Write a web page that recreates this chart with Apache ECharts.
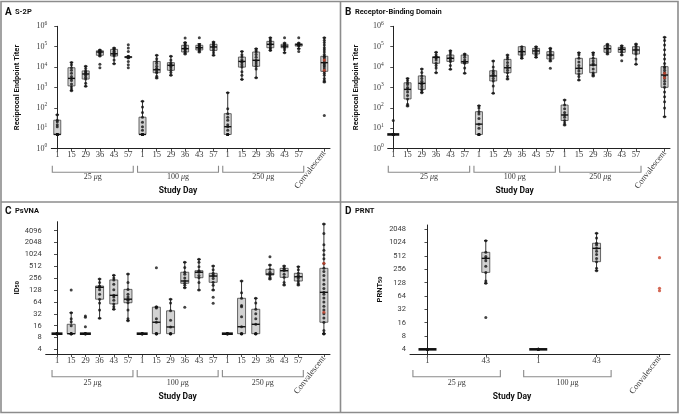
<!DOCTYPE html>
<html><head><meta charset="utf-8">
<script src="https://cdn.jsdelivr.net/npm/echarts@6/dist/echarts.min.js"></script>
<style>html,body{margin:0;padding:0;background:#fff}#c{width:680px;height:416px}</style>
</head><body><div id="c"></div><script>
// ================= DATA =================
const dayLabels = ['1','15','29','36','43','57','1','15','29','36','43','57','1','15','29','36','43','57'];
const dayPos = [0,1,2,3,4,5,6,7,8,9,10,11,12,13,14,15,16,17];
const groupLabels = ['25 μg','100 μg','250 μg'];
const convLabel = 'Convalescent';
const convPosA = 18.8, convPosB = 19.0, convPosC = 18.8;
const yTicks10 = [1,10,100,1000,10000,100000,1000000];
const yTicksC = [4,8,16,32,64,128,256,512,1024,2048,4096];
const yTicksD = [4,8,16,32,64,128,256,512,1024,2048];

// [min, Q1, median, Q3, max] per box (18 study-day boxes + convalescent)
const s2pStats = [
 [5,5,5,25,46],[700,1200,2800,9300,17000],[1150,2600,4600,6500,11000],[35000,38000,55000,63000,69000],[14700,35000,45000,74000,87000],[28000,29000,31000,33000,34000],
 [5,5,5,35,210],[2900,5300,7400,19000,38000],[4000,7000,12300,16500,34000],[44000,55000,80000,117000,160000],[55000,69000,89000,117000,140000],[38000,66000,97000,132000,170000],
 [5,5,12,52,560],[2500,10000,19000,31000,59000],[3000,11000,21600,55000,80000],[66000,89000,131000,183000,275000],[51000,89000,107000,131000,150000],[80000,107000,125000,140000,150000],
 [1860,6200,16500,34000,275000]
];
const s2pPoints = [
 [5,5,5,5,5,5,5,12,15,21,25,46],
 [700,850,1100,1500,2200,2800,3500,5000,7000,9300,13000,17000],
 [1150,1600,2600,3200,4000,4600,5200,6000,6500,8500,11000],
 [9300,13700,35000,40000,46000,52000,55000,58000,62000,66000,69000],
 [14700,22000,35000,40000,45000,52000,60000,70000,80000,87000],
 [9300,13000,19000,28000,30000,31000,33000,34000,59000,87000,125000],
 [5,5,5,5,5,5,8,12,20,35,60,110,210],
 [2900,3600,5300,6000,7400,8500,11000,15000,19000,26000,38000],
 [4000,5500,7000,9000,11000,12300,14000,16500,22000,34000],
 [44000,52000,60000,70000,80000,90000,100000,117000,140000,160000,270000],
 [55000,65000,75000,85000,89000,95000,105000,117000,130000,275000],
 [38000,50000,66000,80000,97000,105000,120000,132000,150000,170000],
 [5,5,5,5,5,8,12,15,25,35,52,90,560],
 [2500,4000,6000,10000,13000,17000,19000,23000,31000,40000,59000],
 [3000,8000,11000,14000,18000,21600,30000,42000,55000,65000,80000],
 [66000,80000,89000,110000,131000,150000,183000,220000,275000],
 [51000,70000,89000,100000,107000,115000,131000,150000,275000],
 [59000,80000,107000,118000,125000,132000,140000,150000,275000],
 [43,1860,2200,2800,4000,5000,6200,8000,10000,12000,14000,16500,20000,25000,30000,34000,42000,55000,70000,90000,120000,160000,210000,275000]
];
const s2pRed = [7000,22000];

const rbdStats = [
 [5,5,5,5,5],[124,275,810,1700,2800],[560,810,1600,3700,8100],[5300,15400,30000,32000,53000],[7800,19000,27000,39000,63000],[5000,15400,18400,39000,44000],
 [5,5,16,65,128],[520,2100,3700,6600,20000],[2600,5300,9300,24000,39000],[27000,39000,57000,100000,100000],[30000,44000,62000,83000,100000],[20000,25000,39000,57000,83000],
 [14.5,24,45,138,245],[2300,4600,8700,27000,51000],[3700,5300,12600,27000,51000],[44000,53000,80000,112000,132000],[39000,53000,74000,93000,112000],[13700,44000,69000,100000,135000],
 [37,1020,4100,10500,290000]
];
const rbdPoints = [
 [5,5,5,5,5,5,5,5,5,5,24],
 [124,150,275,400,600,810,1000,1400,1700,2200,2800],
 [560,700,810,1100,1400,1600,2000,2800,3700,5500,8100],
 [5300,9000,12000,15400,22000,28000,30000,31000,32000,40000,53000],
 [7800,12000,19000,22000,27000,30000,39000,50000,63000],
 [5000,9000,15400,17000,18400,22000,30000,39000,44000],
 [5,5,5,5,5,10,16,30,50,65,100,128],
 [520,1200,2100,2800,3700,4500,5500,6600,10000,20000],
 [2600,3500,5300,7000,9300,12000,17000,24000,30000,39000],
 [27000,33000,39000,47000,57000,65000,80000,100000],
 [30000,38000,44000,52000,62000,70000,83000,100000],
 [8700,20000,25000,32000,39000,45000,57000,70000,83000],
 [14.5,18,24,35,45,60,90,138,245],
 [2300,3500,4600,6500,8700,12000,18000,27000,40000,51000],
 [3700,4500,5300,8000,12600,15000,20000,27000,40000,51000],
 [44000,53000,65000,80000,95000,112000,132000],
 [20500,39000,53000,62000,74000,85000,93000,112000],
 [13700,25000,44000,55000,69000,80000,100000,120000,135000],
 [37,100,200,350,600,1020,1500,2000,2800,3500,4100,5500,7000,9000,10500,15000,25000,40000,70000,120000,200000,290000]
];
const rbdRed = [3000,5000];

const psvnaStats = [
 [10,10,10,10,10],[10,10,10,17.3,34],[10,10,10,10,10],[24.6,75,150,162,244],[41.6,57,94,231,302],[21.4,61,75,133,326],
 [10,10,10,10,10],[10,10,19.5,47,48],[10,10,14.8,38,75],[147,190,217,362,648],[128,263,362,396,770],[128,201,290,340,522],
 [10,10,10,10,10],[10,10,15,79,217],[10,10,17.3,41.6,79],[244,309,326,431,553],[172,269,396,455,522],[172,217,278,340,501],
 [10,19.5,112,455,6040]
];
const psvnaPoints = [
 [10,10,10,10,10,10],
 [10,10,10,10,10,16,20,24,34,128],
 [10,10,10,10,10,15,26,28],
 [24.6,40,60,75,100,130,150,155,162,200,244],
 [41.6,48,57,70,85,94,130,180,231,260,302],
 [21.4,24,40,61,70,75,85,100,133,200,326],
 [10,10,10,10,10,10],
 [10,10,10,10,10,19.5,24,45,47,48,471],
 [10,10,10,10,14.8,22,38,60,75],
 [47,147,170,190,217,260,320,362,480,648],
 [128,200,263,300,362,380,396,500,650,770],
 [59,84,128,170,201,250,290,310,340,420,522],
 [10,10,10,10,10,10],
 [10,10,10,10,15,27,48,52,79,110,217],
 [10,10,10,10,17.3,24,32,41.6,60,79],
 [244,270,309,326,360,431,553,898],
 [172,200,269,320,396,430,455,522],
 [172,190,217,250,278,300,340,420,501],
 [10,10,10,12,19.5,25,32,40,50,64,80,100,112,140,180,230,300,380,455,600,800,1000,1300,1800,3500,6040]
];
const psvnaRed = [610,35];

const prntDayLabels = ['1','43','1','43'];
const prntPos = [0,1,1.9,2.9];
const prntGroupLabels = ['25 μg','100 μg'];
const convPosD = 3.98;
const prntStats = [[4,4,4,4,4],[124,218,452,618,1134],[4,4,4,4,4],[238,380,760,990,1660]];
const prntPoints = [
 [4,4,4,4,4,4],
 [21,124,140,218,300,400,452,500,618,1134],
 [4,4,4,4,4,4],
 [238,270,380,450,550,650,760,900,990,1300,1660]
];
const prntRed = [468,95,84];

// ================= STYLE / LAYOUT =================
const SANS = 'Roboto, "Open Sans", sans-serif';
const SERIF = '"Liberation Serif", "DejaVu Serif", serif';
const INK = '#222';
const FRAME = '#8c8c8c';
const LABEL = '#3a3a3a';

const panels = [
 {title:'A', sub:'S-2P', tx:5, ty:12, g:[51.3,26.3,278.7,122.4], x:[-0.42,19.2], logBase:10, y:[1,1.0001e6], yTicks:yTicks10, pow:true,
  yName:'Reciprocal Endpoint Titer', yNameGap:30, labels:dayLabels, pos:dayPos.concat([convPosA]), stats:s2pStats, pts:s2pPoints, red:s2pRed,
  groups:groupLabels, per:6, pad:0.35, bw:7, flatW:12, br:[17,23.6], gl:28.3, sd:42},
 {title:'B', sub:'Receptor-Binding Domain', tx:345, ty:12, g:[387.7,26.3,282.3,122.4], x:[-0.39,19.38], logBase:10, y:[1,1.0001e6], yTicks:yTicks10, pow:true,
  yName:'Reciprocal Endpoint Titer', yNameGap:28, labels:dayLabels, pos:dayPos.concat([convPosB]), stats:rbdStats, pts:rbdPoints, red:rbdRed,
  groups:groupLabels, per:6, pad:0.35, bw:7, flatW:12, br:[17,23.6], gl:28.3, sd:42},
 {title:'C', sub:'PsVNA', tx:5, ty:211, g:[45.7,221.7,284.3,132.3], x:[-0.796,19.23], logBase:2, y:[3.05,6935], yTicks:yTicksC, pow:false,
  yName:'ID{sub|50}', yNameGap:22, labels:dayLabels, pos:dayPos.concat([convPosC]), stats:psvnaStats, pts:psvnaPoints, red:psvnaRed,
  groups:groupLabels, per:6, pad:0.35, bw:8, flatW:11, br:[16,22.7], gl:29, sd:43.3},
 {title:'D', sub:'PRNT', tx:345, ty:211, g:[410,225,260,129], x:[-0.3,4.16], logBase:2, y:[3.14,2556], yTicks:yTicksD, pow:false,
  yName:'PRNT{sub|50}', yNameGap:26, labels:prntDayLabels, pos:prntPos.concat([convPosD]), stats:prntStats, pts:prntPoints, red:prntRed,
  groups:prntGroupLabels, per:2, pad:0.25, bw:8, flatW:18, br:[16,22.7], gl:29, sd:43.3}
];

function boxRenderer(bw, flatW) {
  return function (params, api) {
    const x = api.value(0);
    const ys = [1,2,3,4,5].map(i => api.coord([x, api.value(i)])[1]);
    const cx = api.coord([x, api.value(3)])[0];
    const [yMin, yQ1, yMed, yQ3, yMax] = ys;
    const hw = bw / 2, cap = 1.8, stroke = '#333';
    const ch = [];
    if (Math.abs(yQ1 - yQ3) < 0.6 && Math.abs(yMin - yMax) < 0.6) {
      ch.push({type:'line', shape:{x1:cx-flatW/2, y1:yMed, x2:cx+flatW/2, y2:yMed}, style:{stroke:'#111', lineWidth:2.6}});
    } else {
      ch.push({type:'line', shape:{x1:cx, y1:yMax, x2:cx, y2:yQ3}, style:{stroke, lineWidth:1}});
      ch.push({type:'line', shape:{x1:cx, y1:yQ1, x2:cx, y2:yMin}, style:{stroke, lineWidth:1}});
      ch.push({type:'line', shape:{x1:cx-cap, y1:yMax, x2:cx+cap, y2:yMax}, style:{stroke, lineWidth:1.2}});
      ch.push({type:'line', shape:{x1:cx-cap, y1:yMin, x2:cx+cap, y2:yMin}, style:{stroke, lineWidth:1.2}});
      ch.push({type:'rect', shape:{x:cx-hw, y:yQ3, width:bw, height:Math.max(0.8, yQ1-yQ3)}, style:{fill:'#d2d2d2', stroke:'#444', lineWidth:0.8}});
      ch.push({type:'line', shape:{x1:cx-hw, y1:yMed, x2:cx+hw, y2:yMed}, style:{stroke:'#111', lineWidth:1.4}});
    }
    return {type:'group', children:ch};
  };
}
function bracketRenderer(p) {
  return function (params, api) {
    const cs = params.coordSys;
    const bottom = cs.y + cs.height;
    const yRef = api.value(2);
    const x1 = api.coord([api.value(0), yRef])[0];
    const x2 = api.coord([api.value(1), yRef])[0];
    const yt = bottom + p.br[0], yb = bottom + p.br[1];
    const txt = p.groups[params.dataIndex].replace('μ', '{i|μ}');
    return {type:'group', children:[
      {type:'polyline', shape:{points:[[x1,yt],[x1,yb],[x2,yb],[x2,yt]]}, style:{stroke:'#8a8a8a', lineWidth:1.1, fill:null}},
      {type:'text', x:(x1+x2)/2, y:bottom + p.gl, style:{text:txt, fill:LABEL, font:'8px ' + SERIF,
        rich:{i:{fontStyle:'italic', fontSize:8, fontFamily:SERIF, fill:LABEL, color:LABEL}},
        align:'center', verticalAlign:'middle', textAlign:'center', textVerticalAlign:'middle'}}
    ]};
  };
}
function studyDayRenderer(p) {
  return function (params, api) {
    const cs = params.coordSys;
    const x = api.coord([api.value(0), api.value(1)])[0];
    return {type:'text', x:x, y:cs.y + cs.height + p.sd, style:{text:'Study Day', fill:'#111', font:'bold 8.5px ' + SANS, align:'center', verticalAlign:'middle', textAlign:'center', textVerticalAlign:'middle'}};
  };
}

const grid = [], xAxis = [], yAxis = [], series = [], graphic = [];
panels.forEach((p, k) => {
  grid.push({left:p.g[0], top:p.g[1], width:p.g[2], height:p.g[3], outerBoundsMode:'none', containLabel:false});
  const nDays = p.labels.length;
  const convPos = p.pos[p.pos.length - 1];
  xAxis.push({
    type:'value', gridIndex:k, position:'bottom', min:p.x[0], max:p.x[1],
    splitLine:{show:false},
    axisLine:{show:true, onZero:false, lineStyle:{color:INK, width:1}},
    axisTick:{show:true, length:3, lineStyle:{color:INK, width:0.8}, customValues:p.pos},
    axisLabel:{show:true, customValues:p.pos.slice(0, nDays), margin:2, color:LABEL, fontFamily:SERIF, fontSize:8.5,
      formatter:(v) => { const i = p.pos.findIndex(q => Math.abs(q - v) < 1e-6); return (i >= 0 && i < nDays) ? p.labels[i] : ''; }}
  });
  xAxis.push({
    type:'value', gridIndex:k, position:'bottom', min:p.x[0], max:p.x[1],
    splitLine:{show:false}, axisLine:{show:false}, axisTick:{show:false},
    axisLabel:{show:true, customValues:[convPos], rotate:52, margin:3, color:LABEL, fontFamily:SERIF, fontSize:8.5, formatter:() => convLabel}
  });
  yAxis.push({
    type:'log', logBase:p.logBase, gridIndex:k, min:p.y[0], max:p.y[1],
    splitLine:{show:false}, minorTick:{show:false}, minorSplitLine:{show:false},
    axisLine:{show:true, lineStyle:{color:INK, width:1}},
    axisTick:{show:true, length:3, lineStyle:{color:INK, width:0.8}, customValues:p.yTicks},
    axisLabel:{show:true, customValues:p.yTicks, margin:4, color:LABEL,
      fontFamily: p.pow ? SERIF : SANS, fontSize: p.pow ? 8 : 7.5,
      formatter: p.pow ? (v => '{b|10}{s|' + Math.round(Math.log10(v)) + '}') : (v => String(Math.round(v))),
      rich:{b:{fontSize:8, lineHeight:12, fontFamily:SERIF, color:LABEL, verticalAlign:'middle'}, s:{fontSize:5.5, lineHeight:5, fontFamily:SERIF, color:LABEL, verticalAlign:'top'}}},
    name:p.yName, nameLocation:'middle', nameGap:p.yNameGap,
    nameTextStyle:{color:'#111', fontFamily:SANS, fontWeight:'bold', fontSize:7.5,
      rich:{sub:{fontSize:5.5, fontFamily:SANS, fontWeight:'bold', color:'#111', verticalAlign:'bottom', lineHeight:8}}}
  });
  const xi = 2 * k;
  series.push({
    type:'custom', xAxisIndex:xi, yAxisIndex:k, clip:false, silent:true, z:2,
    encode:{x:0, y:[1,2,3,4,5]},
    data:p.stats.map((s, i) => [p.pos[i]].concat(s)),
    renderItem:boxRenderer(p.bw, p.flatW)
  });
  const pts = [];
  p.pts.forEach((arr, i) => arr.forEach(v => pts.push([p.pos[i], v])));
  series.push({type:'scatter', xAxisIndex:xi, yAxisIndex:k, symbol:'circle', symbolSize:3, z:3, silent:true,
    itemStyle:{color:'#141414'}, data:pts});
  series.push({type:'scatter', xAxisIndex:xi, yAxisIndex:k, symbol:'circle', symbolSize:3.2, z:4, silent:true,
    itemStyle:{color:'#c9442c'}, data:p.red.map(v => [convPos, v])});
  const spans = p.groups.map((g, gi) => [p.pos[gi * p.per] - p.pad, p.pos[gi * p.per + p.per - 1] + p.pad, p.y[0]]);
  series.push({type:'custom', xAxisIndex:xi, yAxisIndex:k, clip:false, silent:true, encode:{x:[0,1], y:2},
    data:spans, renderItem:bracketRenderer(p)});
  const center = (spans[0][0] + spans[spans.length - 1][1]) / 2;
  series.push({type:'custom', xAxisIndex:xi, yAxisIndex:k, clip:false, silent:true, encode:{x:0, y:1},
    data:[[center, p.y[0]]], renderItem:studyDayRenderer(p)});
  graphic.push({type:'text', x:p.tx, y:p.ty, silent:true, style:{text:p.title, font:'bold 10px ' + SANS, fill:'#111', verticalAlign:'middle', textVerticalAlign:'middle'}});
  graphic.push({type:'text', x:p.tx + 10, y:p.ty, silent:true, style:{text:p.sub, font:'bold 7.5px ' + SANS, fill:'#111', verticalAlign:'middle', textVerticalAlign:'middle'}});
});
graphic.push({type:'rect', silent:true, shape:{x:1, y:1.5, width:677, height:411}, style:{fill:'none', stroke:FRAME, lineWidth:1.6}});
graphic.push({type:'line', silent:true, shape:{x1:1, y1:202, x2:678, y2:202}, style:{stroke:FRAME, lineWidth:1.6}});
graphic.push({type:'line', silent:true, shape:{x1:340.5, y1:1.5, x2:340.5, y2:412.5}, style:{stroke:FRAME, lineWidth:1.6}});

const chart = echarts.init(document.getElementById('c'), null, {renderer:'canvas'});
chart.setOption({animation:false, backgroundColor:'#fff', grid, xAxis, yAxis, series, graphic});
</script></body></html>
